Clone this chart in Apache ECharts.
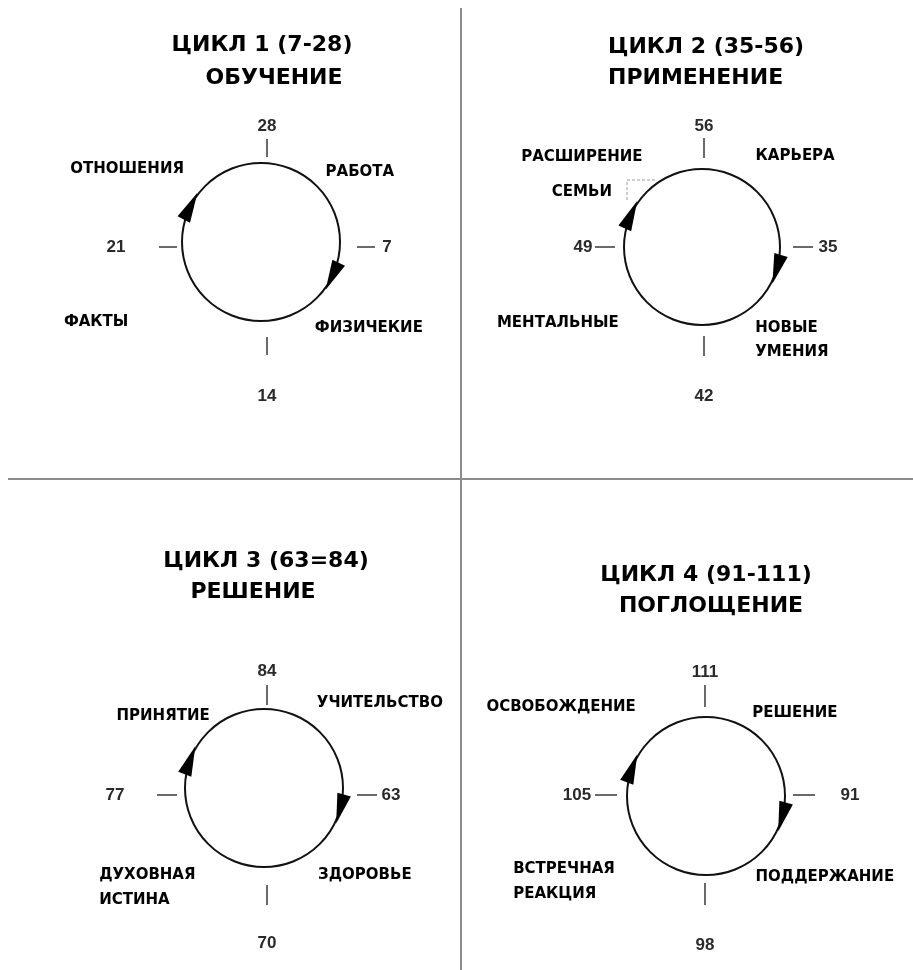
<!DOCTYPE html>
<html><head><meta charset="utf-8">
<script src="https://cdn.jsdelivr.net/npm/echarts/dist/echarts.min.js"></script>
<style>html,body{margin:0;padding:0;background:#fff}#c{width:913px;height:970px}</style>
</head><body><div id="c"></div>
<script>
// ---------- DATA ----------
const cycleTitles = ['ЦИКЛ 1 (7-28)', 'ЦИКЛ 2 (35-56)', 'ЦИКЛ 3 (63=84)', 'ЦИКЛ 4 (91-111)'];
const cycleNames  = ['ОБУЧЕНИЕ', 'ПРИМЕНЕНИЕ', 'РЕШЕНИЕ', 'ПОГЛОЩЕНИЕ'];

const cycle1Ticks = [7, 14, 21, 28];
const cycle2Ticks = [35, 42, 49, 56];
const cycle3Ticks = [63, 70, 77, 84];
const cycle4Ticks = [91, 98, 105, 112];

const cycle1TickLabels = ['7', '14', '21', '28'];
const cycle2TickLabels = ['35', '42', '49', '56'];
const cycle3TickLabels = ['63', '70', '77', '84'];
const cycle4TickLabels = ['91', '98', '105', '111'];

// quadrant areas, clockwise from the first tick (right → bottom → left → top)
const cycle1Areas = ['ФИЗИЧЕКИЕ', 'ФАКТЫ', 'ОТНОШЕНИЯ', 'РАБОТА'];
const cycle2Areas = ['НОВЫЕ\nУМЕНИЯ', 'МЕНТАЛЬНЫЕ', 'РАСШИРЕНИЕ\nСЕМЬИ', 'КАРЬЕРА'];
const cycle3Areas = ['ЗДОРОВЬЕ', 'ДУХОВНАЯ\nИСТИНА', 'ПРИНЯТИЕ', 'УЧИТЕЛЬСТВО'];
const cycle4Areas = ['ПОДДЕРЖАНИЕ', 'ВСТРЕЧНАЯ\nРЕАКЦИЯ', 'ОСВОБОЖДЕНИЕ', 'РЕШЕНИЕ'];

// arrowhead positions on each cycle (age)
const cycle1Arrows = [9.0, 23.1];
const cycle2Arrows = [36.3, 50.9];
const cycle3Arrows = [64.2, 78.6];
const cycle4Arrows = [92.2, 106.6];

const cycleSpan = 28;

// ---------- LAYOUT (positions / styles) ----------
const layout = [
  { c: [261, 242], r: 79, tc: [267, 247], tr: 90, tl: 18, numDist: [120, 149, 151, 121],
    t1: [262, 45, 'center'], t2: [274, 78, 'center'],
    off: [[52, 30], [-109, 24], [-78, -17], [43, -14]], al: ['center', 'center', 'center', 'center'], lh: [22, 22, 22, 22] },
  { c: [702, 247], r: 78, tc: [704, 247], tr: 89, tl: 20, numDist: [124, 149, 121, 121],
    t1: [608, 47, 'left'], t2: [608, 78, 'left'],
    off: [[-2, 38], [-89, 21], [-65, -17], [38, -36]], al: ['left', 'center', 'center', 'center'], lh: [24, 22, 35, 22] },
  { c: [264, 788], r: 79, tc: [267, 795], tr: 90, tl: 20, numDist: [124, 148, 152, 124],
    t1: [266, 561, 'center'], t2: [253, 592, 'center'],
    off: [[45, 31], [-109, 44], [-45, -16], [60, -29]], al: ['center', 'left', 'center', 'center'], lh: [22, 25, 22, 22] },
  { c: [706, 796], r: 79, tc: [705, 795], tr: 88, tl: 22, numDist: [145, 150, 128, 123],
    t1: [706, 575, 'center'], t2: [711, 606, 'center'],
    off: [[63, 25], [-137, 30], [-89, -33], [33, -27]], al: ['center', 'left', 'center', 'center'], lh: [22, 25, 22, 22] }
];

const cycles = [
  { ticks: cycle1Ticks, labels: cycle1TickLabels, areas: cycle1Areas, arrows: cycle1Arrows },
  { ticks: cycle2Ticks, labels: cycle2TickLabels, areas: cycle2Areas, arrows: cycle2Arrows },
  { ticks: cycle3Ticks, labels: cycle3TickLabels, areas: cycle3Areas, arrows: cycle3Arrows },
  { ticks: cycle4Ticks, labels: cycle4TickLabels, areas: cycle4Areas, arrows: cycle4Arrows }
];

const polar = [], angleAxis = [], radiusAxis = [], series = [], graphic = [];
const LABEL_FONT = 'DejaVu Sans';
const HIDDEN = { color: 'rgba(0,0,0,0)', opacity: 1 };

cycles.forEach((cy, i) => {
  const L = layout[i];
  const min = cy.ticks[0], max = min + cycleSpan;
  const pCircle = 2 * i, pTick = 2 * i + 1;

  // circle polar
  polar.push({ center: L.c, radius: L.r });
  angleAxis.push({ polarIndex: pCircle, type: 'value', min, max, startAngle: 0, clockwise: true,
    axisLine: { show: true, lineStyle: { color: '#111', width: 2 } },
    axisTick: { show: false }, axisLabel: { show: false }, splitLine: { show: false } });
  radiusAxis.push({ polarIndex: pCircle, min: 0, max: 1, show: false,
    axisLine: { show: false }, splitLine: { show: false } });

  // tick polar
  polar.push({ center: L.tc, radius: L.tr });
  angleAxis.push({ polarIndex: pTick, type: 'value', min, max, interval: 7, startAngle: 0, clockwise: true,
    axisLine: { show: false },
    axisTick: { show: true, length: L.tl, lineStyle: { color: '#3a3a3a', width: 1.5 } },
    axisLabel: { show: false }, splitLine: { show: false } });
  radiusAxis.push({ polarIndex: pTick, min: 0, max: L.tr, show: false,
    axisLine: { show: false }, splitLine: { show: false } });

  // arrowheads
  series.push({
    type: 'scatter', coordinateSystem: 'polar', polarIndex: pCircle, silent: true, clip: false,
    symbol: 'triangle', symbolSize: [14, 30],
    itemStyle: { color: '#000', opacity: 1 },
    data: cy.arrows.map(a => ({ value: [1, a], symbolRotate: 180 - (a - min) / cycleSpan * 360 }))
  });

  // tick numbers
  series.push({
    type: 'scatter', coordinateSystem: 'polar', polarIndex: pTick, silent: true, clip: false,
    symbolSize: 1, itemStyle: HIDDEN,
    label: { show: true, position: 'inside', formatter: '{b}', color: '#2a2a2a',
      fontFamily: 'Liberation Sans', fontWeight: 'bold', fontSize: 17 },
    data: cy.ticks.map((t, k) => ({ name: cy.labels[k], value: [L.numDist[k], t] }))
  });

  // quadrant area labels
  series.push({
    type: 'scatter', coordinateSystem: 'polar', polarIndex: pCircle, silent: true, clip: false,
    symbolSize: 1, itemStyle: HIDDEN,
    data: cy.areas.map((name, k) => {
      const a0 = cy.ticks[k], a1 = k < 3 ? cy.ticks[k + 1] : max;
      return {
        name, value: [1, (a0 + a1) / 2],
        label: { show: true, position: 'inside', formatter: '{b}', color: '#000',
          fontFamily: LABEL_FONT, fontWeight: 'bold', fontSize: 15, lineHeight: L.lh[k],
          align: L.al[k], offset: L.off[k] }
      };
    })
  });

  // titles
  graphic.push({ type: 'text', x: L.t1[0], y: L.t1[1], silent: true,
    style: { text: cycleTitles[i], align: L.t1[2], verticalAlign: 'middle',
      fontFamily: LABEL_FONT, fontWeight: 'bold', fontSize: 22, fill: '#000' } });
  graphic.push({ type: 'text', x: L.t2[0], y: L.t2[1], silent: true,
    style: { text: cycleNames[i], align: L.t2[2], verticalAlign: 'middle',
      fontFamily: LABEL_FONT, fontWeight: 'bold', fontSize: 22, fill: '#000' } });
});

// dividers
graphic.push({ type: 'line', silent: true, shape: { x1: 461, y1: 8, x2: 461, y2: 970 },
  style: { stroke: '#8c8c8c', lineWidth: 2 } });
graphic.push({ type: 'line', silent: true, shape: { x1: 8, y1: 479, x2: 913, y2: 479 },
  style: { stroke: '#8c8c8c', lineWidth: 2 } });
// small dashed bracket near "СЕМЬИ"
graphic.push({ type: 'polyline', silent: true, shape: { points: [[655, 180], [627, 180], [627, 202]] },
  style: { stroke: '#9a9a9a', lineWidth: 1, lineDash: [3, 2], fill: null } });

const chart = echarts.init(document.getElementById('c'), null, { renderer: 'canvas' });
chart.setOption({
  backgroundColor: '#ffffff',
  animation: false,
  polar, angleAxis, radiusAxis, series, graphic
});
</script>
</body></html>
